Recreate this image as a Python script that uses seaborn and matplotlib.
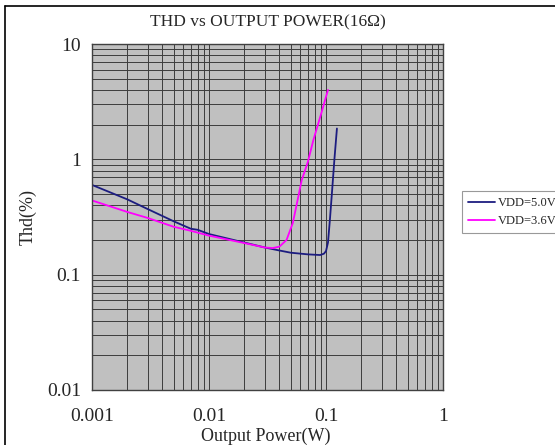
import numpy as np
import pandas as pd
import matplotlib
matplotlib.use('Agg')
import matplotlib.pyplot as plt
from matplotlib.lines import Line2D
from matplotlib.ticker import FixedLocator, LogLocator, NullFormatter
import seaborn as sns

# THD curves (x in W, y in %)
power_5v = [0.001, 0.002, 0.003, 0.005, 0.007, 0.008, 0.01, 0.02, 0.03, 0.04,
            0.05, 0.07, 0.089, 0.096, 0.1, 0.104, 0.108, 0.113, 0.118, 0.124]
thd_5v = [0.60, 0.45, 0.37, 0.29, 0.25, 0.245, 0.225, 0.19, 0.172, 0.162,
          0.155, 0.150, 0.148, 0.152, 0.16, 0.19, 0.30, 0.55, 1.0, 1.85]

power_36v = [0.001, 0.002, 0.003, 0.005, 0.007, 0.01, 0.02, 0.03, 0.035, 0.04,
             0.046, 0.052, 0.056, 0.062, 0.07, 0.078, 0.09, 0.104]
thd_36v = [0.44, 0.35, 0.31, 0.26, 0.24, 0.218, 0.188, 0.172, 0.17, 0.175,
           0.20, 0.28, 0.40, 0.66, 0.95, 1.47, 2.4, 4.0]

labels = ['VDD=5.0V', 'VDD=3.6V']
colors = {'VDD=5.0V': '#1c1c80', 'VDD=3.6V': '#ff00ff'}

x_ticks = [0.001, 0.01, 0.1, 1]
x_ticklabels = ['0.001', '0.01', '0.1', '1']
y_ticks = [0.01, 0.1, 1, 10]
y_ticklabels = ['0.01', '0.1', '1', '10']

df = pd.concat([
    pd.DataFrame({'power': power_5v, 'thd': thd_5v, 'supply': labels[0]}),
    pd.DataFrame({'power': power_36v, 'thd': thd_36v, 'supply': labels[1]}),
])

sns.set_style('white')
plt.rcParams['font.family'] = ['Liberation Serif', 'DejaVu Serif']

fig = plt.figure(figsize=(5.55, 4.45), dpi=100)
ax = fig.add_axes([92 / 555, 1 - 390 / 445, 351 / 555, 346 / 445])
ax.set_facecolor('#c0c0c0')

ax.set_xscale('log')
ax.set_yscale('log')
ax.set_xlim(0.001, 1)
ax.set_ylim(0.01, 10)

ax.xaxis.set_minor_locator(LogLocator(base=10, subs=np.arange(2, 10)))
ax.yaxis.set_minor_locator(LogLocator(base=10, subs=np.arange(2, 10)))
ax.xaxis.set_minor_formatter(NullFormatter())
ax.yaxis.set_minor_formatter(NullFormatter())
ax.grid(True, which='both', color='#3c3c3c', linewidth=0.7)
ax.set_axisbelow(True)

sns.lineplot(data=df, x='power', y='thd', hue='supply', palette=colors,
             sort=False, linewidth=1.3, ax=ax, legend=False)

ax.xaxis.set_major_locator(FixedLocator(x_ticks))
ax.yaxis.set_major_locator(FixedLocator(y_ticks))
ax.set_xticklabels(x_ticklabels, fontsize=14)
ax.set_yticklabels(y_ticklabels, fontsize=14)
ax.tick_params(axis='x', which='both', length=0, pad=13)
ax.tick_params(axis='y', which='both', length=0, pad=8)

ax.set_xlabel('Output Power(W)', fontsize=13)
ax.xaxis.set_label_coords(0.495, -0.108)
ax.set_ylabel('Thd(%)', fontsize=13)
ax.yaxis.set_label_coords(-0.157, 0.5)
ax.set_title('THD vs OUTPUT POWER(16\u03a9)', fontsize=12.5, pad=13)

for s in ax.spines.values():
    s.set_color('#404040')
    s.set_linewidth(1.0)

handles = [Line2D([], [], color=colors[l], linewidth=1.3) for l in labels]
leg = fig.legend(handles, labels, loc='center left',
                 bbox_to_anchor=(462 / 555, 1 - 212 / 445),
                 frameon=True, fancybox=False, fontsize=9,
                 handlelength=2.1, handletextpad=0.25, borderpad=0.5,
                 borderaxespad=0, labelspacing=0.5)
leg.get_frame().set_edgecolor('#808080')
leg.get_frame().set_linewidth(0.8)

# outer frame of the original picture (left and top edges)
fig.add_artist(Line2D([5 / 555, 5 / 555], [0, 1 - 6 / 445], color='black',
                      linewidth=1.2, transform=fig.transFigure))
fig.add_artist(Line2D([5 / 555, 1], [1 - 6 / 445, 1 - 6 / 445], color='black',
                      linewidth=1.2, transform=fig.transFigure))

fig.savefig('out.png', dpi=100)
